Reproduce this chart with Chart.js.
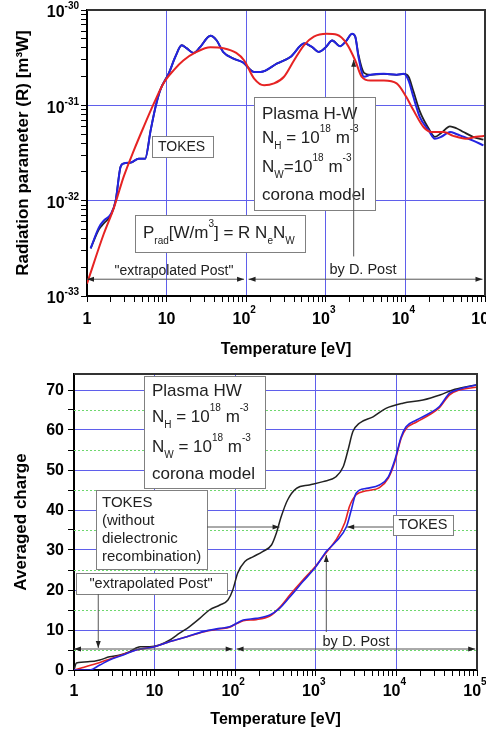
<!DOCTYPE html>
<html>
<head>
<meta charset="utf-8">
<script src="https://cdn.jsdelivr.net/npm/chart.js@4.4.0/dist/chart.umd.min.js"></script>
<style>
  html, body { margin: 0; padding: 0; background: #fff; }
  #top { position: absolute; left: 0; top: 0; width: 486px; height: 365px; }
  #bottom { position: absolute; left: 0; top: 365px; width: 486px; height: 366px; }
</style>
</head>
<body>
<div id="top"><canvas id="radChart" width="486" height="365"></canvas></div>
<div id="bottom"><canvas id="chargeChart" width="486" height="366"></canvas></div>
<script>
// --- radiation parameter (log10 values) ---
const tokesLogT = [0.046, 0.15, 0.21, 0.30, 0.36, 0.42, 0.46, 0.55, 0.65, 0.73, 0.80, 0.86, 0.92, 1.03, 1.11, 1.19, 1.25, 1.34, 1.42, 1.55, 1.63, 1.71, 1.84, 1.96, 2.1, 2.18, 2.39, 2.56, 2.73, 2.83, 2.91, 3.0, 3.08, 3.18, 3.26, 3.33, 3.37, 3.41, 3.48, 3.56, 3.73, 3.89, 3.98, 4.04, 4.1, 4.18, 4.29, 4.37, 4.45, 4.56, 4.64, 4.73, 4.85, 4.98];
const tokesLogR = [-32.5, -32.28, -32.21, -32.14, -32.0, -31.65, -31.61, -31.6, -31.56, -31.56, -31.26, -31.02, -30.84, -30.66, -30.49, -30.37, -30.4, -30.45, -30.39, -30.27, -30.32, -30.44, -30.51, -30.55, -30.65, -30.65, -30.56, -30.49, -30.35, -30.39, -30.44, -30.39, -30.32, -30.38, -30.32, -30.25, -30.28, -30.49, -30.70, -30.68, -30.67, -30.68, -30.67, -30.74, -30.91, -31.12, -31.26, -31.35, -31.33, -31.28, -31.30, -31.33, -31.37, -31.42];
// black curve, same temperature grid as TOKES
const noDrLogR = [-32.5, -32.30, -32.24, -32.15, -32.0, -31.65, -31.61, -31.6, -31.56, -31.56, -31.26, -31.02, -30.84, -30.66, -30.49, -30.37, -30.4, -30.45, -30.39, -30.27, -30.32, -30.44, -30.51, -30.55, -30.65, -30.65, -30.56, -30.49, -30.35, -30.39, -30.44, -30.39, -30.32, -30.38, -30.32, -30.25, -30.28, -30.47, -30.66, -30.68, -30.67, -30.68, -30.67, -30.70, -30.85, -31.06, -31.24, -31.33, -31.29, -31.22, -31.24, -31.28, -31.33, -31.36];
const postLogT = [0.0, 0.21, 0.34, 0.46, 0.59, 0.71, 0.84, 0.96, 1.09, 1.21, 1.375, 1.55, 1.71, 1.875, 1.975, 2.1, 2.225, 2.35, 2.475, 2.6, 2.725, 2.85, 3.01, 3.14, 3.26, 3.37, 3.45, 3.56, 3.73, 3.89, 4.01, 4.1, 4.23, 4.33, 4.48, 4.6, 4.76, 4.89, 5.0];
const postLogR = [-32.87, -32.35, -32.07, -31.75, -31.47, -31.23, -30.98, -30.77, -30.63, -30.53, -30.44, -30.39, -30.40, -30.45, -30.53, -30.72, -30.79, -30.77, -30.70, -30.53, -30.37, -30.28, -30.25, -30.26, -30.35, -30.53, -30.70, -30.74, -30.74, -30.77, -30.91, -31.05, -31.23, -31.28, -31.28, -31.32, -31.35, -31.33, -31.32];

// --- averaged charge (lower plot) ---
const chargeNoDrLogT = [0, 0.03, 0.195, 0.32, 0.44, 0.57, 0.69, 0.82, 0.94, 1.06, 1.19, 1.31, 1.43, 1.56, 1.68, 1.81, 1.91, 1.97, 2.03, 2.12, 2.22, 2.34, 2.45, 2.51, 2.57, 2.65, 2.76, 2.92, 3.09, 3.25, 3.34, 3.40, 3.46, 3.54, 3.71, 3.87, 4.08, 4.33, 4.54, 4.70, 4.87, 4.99];
const chargeNoDrZ = [0, 1.75, 2.1, 2.5, 3.3, 3.75, 4.6, 5.8, 5.8, 6.25, 7.5, 9.2, 10.8, 12.9, 15, 16.25, 17.5, 20, 24.2, 27.1, 28.3, 29.6, 31.25, 34.2, 38.3, 42.5, 45.4, 46.25, 47.1, 48.3, 50.8, 55, 59.6, 61.7, 63.3, 65.4, 66.7, 67.5, 68.75, 70, 70.8, 71.25];
const chargeTokesLogT = [0, 0.195, 0.32, 0.44, 0.61, 0.77, 1.0, 1.19, 1.40, 1.60, 1.81, 1.93, 2.02, 2.10, 2.26, 2.43, 2.55, 2.68, 2.84, 3.0, 3.13, 3.25, 3.38, 3.44, 3.50, 3.63, 3.79, 3.90, 3.98, 4.06, 4.12, 4.25, 4.41, 4.53, 4.66, 4.78, 4.99];
const chargeTokesZ = [0, 0, 1.25, 2.5, 3.75, 5, 5.8, 7.1, 8.3, 9.6, 10.4, 10.8, 11.7, 12.5, 12.9, 13.75, 15.4, 18.3, 22.1, 25.8, 29.6, 32.1, 35.8, 40, 44.2, 45.4, 46.25, 48.3, 52.5, 58.3, 60.8, 62.5, 64.2, 65.8, 69.2, 70.2, 71.25];
const chargePostLogT = [0, 0.11, 0.28, 0.44, 0.61, 0.77, 1.0, 1.19, 1.40, 1.60, 1.81, 1.93, 2.02, 2.10, 2.26, 2.43, 2.55, 2.68, 2.84, 3.0, 3.13, 3.25, 3.36, 3.42, 3.50, 3.63, 3.79, 3.90, 3.98, 4.06, 4.12, 4.25, 4.41, 4.53, 4.66, 4.78, 4.99];
const chargePostZ = [0, 0.6, 1.6, 2.7, 3.9, 5, 5.8, 7.1, 8.3, 9.5, 10.3, 10.7, 11.6, 12.3, 12.6, 13.5, 15.6, 18.8, 22.5, 26, 29.4, 32.5, 36.8, 41, 43.8, 44.8, 45.6, 48, 52, 58, 60.3, 62, 63.8, 65.5, 68.8, 70, 70.7];

// axis ticks
const tempExps = [0, 1, 2, 3, 4, 5];
const radExps = [-33, -32, -31, -30];
const chargeTicks = [0, 10, 20, 30, 40, 50, 60, 70];
const chargeHalfTicks = [5, 15, 25, 35, 45, 55, 65];

const FONT = 'Arial, "Liberation Sans", Helvetica, sans-serif';
const GRID_BLUE = 'rgb(95,95,235)';
Chart.defaults.font.family = FONT;
Chart.defaults.color = '#000';

function logPts(lt, ly) {
  return lt.map((t, i) => ({ x: Math.pow(10, t), y: Math.pow(10, ly[i]) }));
}
function linPts(lt, z) {
  return lt.map((t, i) => ({ x: Math.pow(10, t), y: z[i] }));
}

// decades plus 2..9 subdivisions for the log axes
function logTicks(exps) {
  const out = [];
  exps.forEach((e, i) => {
    out.push({ value: Math.pow(10, e), major: true });
    if (i < exps.length - 1) {
      for (let m = 2; m <= 9; m++) out.push({ value: m * Math.pow(10, e), major: false });
    }
  });
  return out;
}

function decadeGrid(ctx) {
  const inner = ctx.index > 0 && ctx.index < ctx.scale.ticks.length - 1;
  return ctx.tick && ctx.tick.major && inner ? GRID_BLUE : 'rgba(0,0,0,0)';
}

// text with sub/superscripts: parts = [[text, ''|'sup'|'sub'], ...]
function richText(ctx, parts, x, y, size, weight, align, rise) {
  rise = rise === undefined ? 0.5 : rise;
  const small = Math.round(size * 0.6);
  const fontOf = k => weight + ' ' + (k ? small : size) + 'px ' + FONT;
  let total = 0;
  parts.forEach(p => { ctx.font = fontOf(p[1]); total += ctx.measureText(p[0]).width; });
  let cx = align === 'center' ? x - total / 2 : (align === 'right' ? x - total : x);
  ctx.textAlign = 'left';
  ctx.textBaseline = 'middle';
  parts.forEach(p => {
    ctx.font = fontOf(p[1]);
    let dy = 0;
    if (p[1] === 'sup') dy = -size * rise;
    if (p[1] === 'sub') dy = size * rise;
    ctx.fillText(p[0], cx, y + dy);
    cx += ctx.measureText(p[0]).width;
  });
}

function box(ctx, x, y, w, h) {
  ctx.fillStyle = '#fff';
  ctx.fillRect(x, y, w, h);
  ctx.strokeStyle = '#808080';
  ctx.lineWidth = 1;
  ctx.strokeRect(x + 0.5, y + 0.5, w, h);
  ctx.fillStyle = '#222';
}

function arrowHead(ctx, x, y, ux, uy) {
  const L = 7, W = 2.5;
  ctx.beginPath();
  ctx.moveTo(x, y);
  ctx.lineTo(x - ux * L - uy * W, y - uy * L + ux * W);
  ctx.lineTo(x - ux * L + uy * W, y - uy * L - ux * W);
  ctx.closePath();
  ctx.fill();
}

function arrow(ctx, x1, y1, x2, y2, both) {
  ctx.strokeStyle = '#555';
  ctx.fillStyle = '#222';
  ctx.lineWidth = 1;
  ctx.beginPath();
  ctx.moveTo(x1, y1);
  ctx.lineTo(x2, y2);
  ctx.stroke();
  const len = Math.hypot(x2 - x1, y2 - y1);
  const ux = (x2 - x1) / len, uy = (y2 - y1) / len;
  arrowHead(ctx, x2, y2, ux, uy);
  if (both) arrowHead(ctx, x1, y1, -ux, -uy);
}

function frame(chart) {
  const a = chart.chartArea, ctx = chart.ctx;
  ctx.strokeStyle = '#333';
  ctx.lineWidth = 2;
  ctx.beginPath();
  ctx.moveTo(a.left, a.top);
  ctx.lineTo(a.right, a.top);
  ctx.lineTo(a.right, a.bottom);
  ctx.stroke();
}

function tempLabels(chart, y) {
  const ctx = chart.ctx, sx = chart.scales.x;
  ctx.fillStyle = '#000';
  tempExps.forEach(e => {
    const px = sx.getPixelForValue(Math.pow(10, e));
    if (e === 0) richText(ctx, [['1', '']], px, y, 16, 'bold', 'center');
    else if (e === 1) richText(ctx, [['10', '']], px, y, 16, 'bold', 'center');
    else richText(ctx, [['10', ''], [String(e), 'sup']], px - 2, y, 16, 'bold', 'center', 0.6);
  });
}

const radDecor = {
  id: 'radDecor',
  afterDatasetsDraw(chart) {
    const ctx = chart.ctx, sx = chart.scales.x, sy = chart.scales.y;
    ctx.save();
    box(ctx, 152, 136, 61, 21);
    richText(ctx, [['TOKES', '']], 158, 147, 14, 'normal', 'left');

    box(ctx, 254, 97, 121, 113);
    richText(ctx, [['Plasma H-W', '']], 262, 114, 17, 'normal', 'left');
    richText(ctx, [['N', ''], ['H', 'sub'], [' = 10', ''], ['18', 'sup'], [' m', ''], ['-3', 'sup']], 262, 138, 17, 'normal', 'left');
    richText(ctx, [['N', ''], ['W', 'sub'], ['=10', ''], ['18', 'sup'], [' m', ''], ['-3', 'sup']], 262, 167, 17, 'normal', 'left');
    richText(ctx, [['corona model', '']], 262, 195, 17, 'normal', 'left');

    box(ctx, 135, 215, 170, 37);
    richText(ctx, [['P', ''], ['rad', 'sub'], ['[W/m', ''], ['3', 'sup'], ['] = R N', ''], ['e', 'sub'], ['N', ''], ['W', 'sub']], 143, 233, 17, 'normal', 'left');

    const yA = sy.getPixelForValue(1.5e-33);
    arrow(ctx, sx.getPixelForValue(1), yA, sx.getPixelForValue(94), yA, true);
    arrow(ctx, sx.getPixelForValue(107), yA, sx.getPixelForValue(93000), yA, true);
    const xV = sx.getPixelForValue(2240);
    arrow(ctx, xV, sy.getPixelForValue(2.6e-33), xV, sy.getPixelForValue(3.0e-31), false);

    ctx.fillStyle = '#222';
    richText(ctx, [['"extrapolated Post"', '']], 174, 271, 14, 'normal', 'center');
    richText(ctx, [['by D. Post', '']], 363, 270, 14.5, 'normal', 'center');
    ctx.restore();
  },
  afterDraw(chart) {
    const ctx = chart.ctx, sy = chart.scales.y;
    ctx.save();
    frame(chart);
    tempLabels(chart, 320);
    radExps.forEach(e => {
      const py = sy.getPixelForValue(Math.pow(10, e));
      richText(ctx, [['10', ''], [String(e), 'sup']], 79, py + 3, 16, 'bold', 'right', 0.4);
    });
    ctx.restore();
  }
};

const chargeDecor = {
  id: 'chargeDecor',
  beforeDatasetsDraw(chart) {
    const ctx = chart.ctx, a = chart.chartArea, sy = chart.scales.y;
    ctx.save();
    ctx.strokeStyle = 'rgb(110,215,110)';
    ctx.lineWidth = 1;
    ctx.setLineDash([2, 2]);
    chargeHalfTicks.forEach(v => {
      const py = Math.round(sy.getPixelForValue(v)) + 0.5;
      ctx.beginPath();
      ctx.moveTo(a.left, py);
      ctx.lineTo(a.right, py);
      ctx.stroke();
    });
    ctx.restore();
  },
  afterDatasetsDraw(chart) {
    const ctx = chart.ctx, sx = chart.scales.x, sy = chart.scales.y;
    ctx.save();
    box(ctx, 144, 11, 121, 112);
    richText(ctx, [['Plasma HW', '']], 152, 26, 17, 'normal', 'left');
    richText(ctx, [['N', ''], ['H', 'sub'], [' = 10', ''], ['18', 'sup'], [' m', ''], ['-3', 'sup']], 152, 52, 17, 'normal', 'left');
    richText(ctx, [['N', ''], ['W', 'sub'], [' = 10', ''], ['18', 'sup'], [' m', ''], ['-3', 'sup']], 152, 82, 17, 'normal', 'left');
    richText(ctx, [['corona model', '']], 152, 109, 17, 'normal', 'left');

    box(ctx, 96, 125, 111, 79);
    richText(ctx, [['TOKES', '']], 102, 138, 15, 'normal', 'left');
    richText(ctx, [['(without', '']], 102, 156, 15, 'normal', 'left');
    richText(ctx, [['dielectronic', '']], 102, 174, 15, 'normal', 'left');
    richText(ctx, [['recombination)', '']], 102, 192, 15, 'normal', 'left');

    box(ctx, 76, 208, 151, 21);
    richText(ctx, [['"extrapolated Post"', '']], 151, 218.5, 14.5, 'normal', 'center');

    box(ctx, 393, 150, 60, 20);
    richText(ctx, [['TOKES', '']], 423, 160, 14.5, 'normal', 'center');

    const yA = sy.getPixelForValue(5.25);
    arrow(ctx, sx.getPixelForValue(1), yA, sx.getPixelForValue(93), yA, true);
    arrow(ctx, sx.getPixelForValue(104), yA, sx.getPixelForValue(95000), yA, true);
    arrow(ctx, sx.getPixelForValue(2.0), 229, sx.getPixelForValue(2.0), sy.getPixelForValue(5.5), false);
    arrow(ctx, sx.getPixelForValue(1350), sy.getPixelForValue(9.5), sx.getPixelForValue(1350), sy.getPixelForValue(28.75), false);
    const yT = sy.getPixelForValue(35.75);
    arrow(ctx, 393, yT, sx.getPixelForValue(2450), yT, false);
    arrow(ctx, 207, yT, sx.getPixelForValue(355), yT, false);

    ctx.fillStyle = '#222';
    richText(ctx, [['by D. Post', '']], 356, 277, 14.5, 'normal', 'center');
    ctx.restore();
  },
  afterDraw(chart) {
    const ctx = chart.ctx, sy = chart.scales.y;
    ctx.save();
    frame(chart);
    tempLabels(chart, 327);
    ctx.fillStyle = '#000';
    chargeTicks.forEach(v => {
      richText(ctx, [[String(v), '']], 64, sy.getPixelForValue(v) + 1, 16, 'bold', 'right');
    });
    ctx.restore();
  }
};

function tempAxis(height, titlePad) {
  return {
    type: 'logarithmic', min: 1, max: 1e5,
    afterBuildTicks: s => { s.ticks = logTicks(tempExps); },
    afterFit: s => { s.height = height; },
    grid: { color: decadeGrid, tickColor: '#000', tickLength: 6, lineWidth: 1 },
    border: { color: '#000', width: 2 },
    ticks: { display: false },
    title: { display: true, text: 'Temperature [eV]', color: '#000',
             font: { family: FONT, size: 16, weight: 'bold' }, padding: { top: 0, bottom: titlePad } }
  };
}

const lineStyle = { pointRadius: 0, fill: false, cubicInterpolationMode: 'monotone' };

// Chart.js paints the first dataset on top, so the back-most curve comes last
new Chart(document.getElementById('radChart'), {
  type: 'line',
  data: {
    datasets: [
      Object.assign({ label: 'Post', data: logPts(postLogT, postLogR), borderColor: 'rgb(230,35,35)', borderWidth: 2 }, lineStyle),
      Object.assign({ label: 'TOKES', data: logPts(tokesLogT, tokesLogR), borderColor: 'rgb(35,35,225)', borderWidth: 2 }, lineStyle),
      Object.assign({ label: 'TOKES (no DR)', data: logPts(tokesLogT, noDrLogR), borderColor: '#222', borderWidth: 1.8 }, lineStyle)
    ]
  },
  options: {
    responsive: false,
    animation: false,
    layout: { padding: { top: 10, right: 1, left: 0, bottom: 0 } },
    plugins: { legend: { display: false }, tooltip: { enabled: false } },
    scales: {
      x: tempAxis(69, 5.4),
      y: {
        type: 'logarithmic', min: 1e-33, max: 1e-30,
        afterBuildTicks: s => { s.ticks = logTicks(radExps); },
        afterFit: s => { s.width = 87; },
        grid: { color: decadeGrid, tickColor: '#000', tickLength: 6, lineWidth: 1 },
        border: { color: '#000', width: 2 },
        ticks: { display: false },
        title: { display: true, text: 'Radiation parameter (R) [m³W]', color: '#000',
                 font: { family: FONT, size: 17, weight: 'bold' }, padding: { top: 13, bottom: 0 } }
      }
    }
  },
  plugins: [radDecor]
});

new Chart(document.getElementById('chargeChart'), {
  type: 'line',
  data: {
    datasets: [
      Object.assign({ label: 'TOKES', data: linPts(chargeTokesLogT, chargeTokesZ), borderColor: 'rgb(35,35,225)', borderWidth: 1.6 }, lineStyle),
      Object.assign({ label: 'Post', data: linPts(chargePostLogT, chargePostZ), borderColor: 'rgb(230,35,35)', borderWidth: 1.6 }, lineStyle),
      Object.assign({ label: 'TOKES (without dielectronic recombination)', data: linPts(chargeNoDrLogT, chargeNoDrZ), borderColor: '#222', borderWidth: 1.5 }, lineStyle)
    ]
  },
  options: {
    responsive: false,
    animation: false,
    layout: { padding: { top: 9, right: 9, left: 0, bottom: 0 } },
    plugins: { legend: { display: false }, tooltip: { enabled: false } },
    scales: {
      x: tempAxis(61, 1.4),
      y: {
        type: 'linear', min: 0, max: 74,
        afterBuildTicks: s => { s.ticks = chargeTicks.concat(chargeHalfTicks).sort((a, b) => a - b).map(v => ({ value: v })); },
        afterFit: s => { s.width = 74; },
        grid: {
          color: ctx => (ctx.tick && ctx.tick.value % 10 === 0 && ctx.tick.value > 0) ? GRID_BLUE : 'rgba(0,0,0,0)',
          tickColor: '#000', tickLength: 6, lineWidth: 1
        },
        border: { color: '#000', width: 2 },
        ticks: { display: false },
        title: { display: true, text: 'Averaged charge', color: '#000',
                 font: { family: FONT, size: 17, weight: 'bold' }, padding: { top: 11, bottom: 0 } }
      }
    }
  },
  plugins: [chargeDecor]
});
</script>
</body>
</html>
